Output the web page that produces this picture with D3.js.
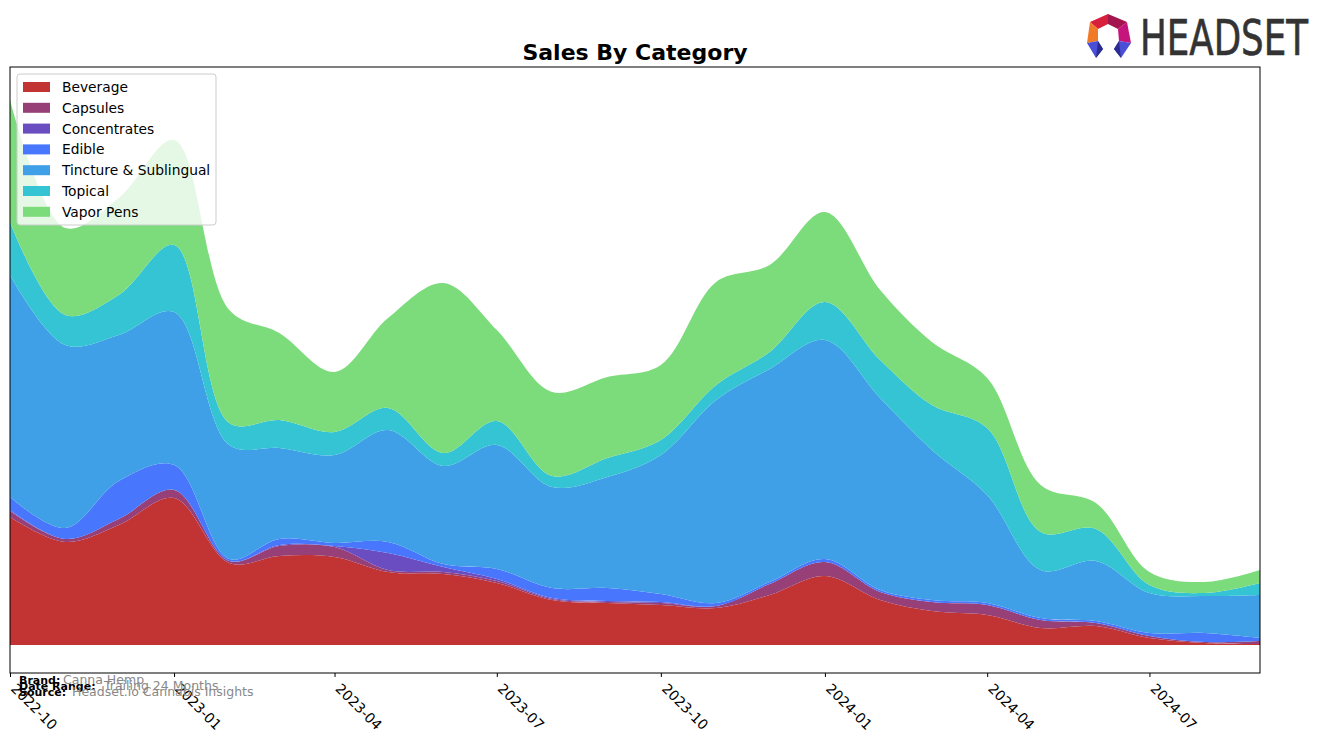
<!DOCTYPE html>
<html>
<head>
<meta charset="utf-8">
<script src="https://cdn.jsdelivr.net/npm/d3@7"></script>
<style>
  body { margin: 0; background: #fff; }
  svg { font-family: "DejaVu Sans", sans-serif; }
</style>
</head>
<body>
<div id="chart-area"></div>
<script>
// months shown on the x axis (monthly data, Oct 2022 - Sep 2024)
const months = ["2022-10","2022-11","2022-12","2023-01","2023-02","2023-03","2023-04","2023-05",
  "2023-06","2023-07","2023-08","2023-09","2023-10","2023-11","2023-12","2024-01","2024-02",
  "2024-03","2024-04","2024-05","2024-06","2024-07","2024-08","2024-09"];
const tickLabels = ["2022-10","2023-01","2023-04","2023-07","2023-10","2024-01","2024-04","2024-07"];

const categories = ["Beverage","Capsules","Concentrates","Edible","Tincture & Sublingual","Topical","Vapor Pens"];
const colors = ["#c23333","#974077","#6a4dc1","#4876fd","#3fa0e8","#34c4d3","#7cdc7c"];

// sales per month (relative units)
const beverage     = [128,103,120,147,82,89,88,73,71,62,45,42,40,37,50,69,45,34,30,17,19,7,2,1];
const capsules     = [6,3,6,8,2,10,10,2,2,2,1,1,2,2,11,14,8,9,10,8,3,2,1,3];
const concentrates = [1,0,0,0,0,1,1,17,5,2,1,1,1,0,0,0,0,0,0,0,0,0,0,0];
const edible       = [13,11,38,25,2,6,3,11,3,10,10,13,8,3,2,3,2,2,2,2,2,3,9,3];
const tincture     = [222,183,146,153,114,91,88,112,98,124,101,111,139,203,213,219,192,150,108,48,60,40,37,43];
const topical      = [53,30,40,67,22,28,23,22,13,24,11,19,15,15,17,38,38,45,67,38,32,8,3,12];
const vaporPens    = [122,87,97,105,113,87,60,90,170,91,84,81,75,103,87,90,70,63,50,47,26,13,11,13];

const series = [beverage, capsules, concentrates, edible, tincture, topical, vaporPens];

// layout
const W = 1324, H = 743;
const plot = { left: 10, right: 1260, top: 67, bottom: 673 };

const svg = d3.select("#chart-area")
  .append("svg")
    .attr("width", W)
    .attr("height", H);

const parse = d3.timeParse("%Y-%m");

// table for the stack
const table = months.map(function(m, i) {
  const row = { date: parse(m) };
  categories.forEach(function(c, k) { row[c] = series[k][i]; });
  return row;
});

const x = d3.scaleTime()
  .domain([parse(months[0]), parse(months[months.length - 1])])
  .range([plot.left, plot.right]);

const y = d3.scaleLinear()
  .domain([-28, 578])
  .range([plot.bottom, plot.top]);

const stacked = d3.stack().keys(categories)(table);

const area = d3.area()
  .curve(d3.curveCatmullRom.alpha(0.5))
  .x(function(d) { return x(d.data.date); })
  .y0(function(d) { return y(d[0]); })
  .y1(function(d) { return y(d[1]); });

svg.append("defs").append("clipPath").attr("id", "clip")
  .append("rect")
    .attr("x", plot.left).attr("y", plot.top)
    .attr("width", plot.right - plot.left)
    .attr("height", plot.bottom - plot.top);

svg.append("g")
  .attr("clip-path", "url(#clip)")
  .selectAll("path")
  .data(stacked)
  .enter().append("path")
    .attr("fill", function(d, i) { return colors[i]; })
    .attr("d", area);

// frame
svg.append("rect")
  .attr("x", plot.left).attr("y", plot.top)
  .attr("width", plot.right - plot.left)
  .attr("height", plot.bottom - plot.top)
  .attr("fill", "none")
  .attr("stroke", "#000")
  .attr("stroke-width", 1);

// x axis
const xAxis = svg.append("g")
  .attr("transform", "translate(0," + plot.bottom + ")")
  .call(d3.axisBottom(x)
    .tickValues(tickLabels.map(parse))
    .tickSize(4)
    .tickFormat(d3.timeFormat("%Y-%m")));
xAxis.select(".domain").remove();
xAxis.selectAll("line").attr("stroke", "#000");
xAxis.selectAll("text")
  .attr("font-size", "14px")
  .attr("font-family", "DejaVu Sans, sans-serif")
  .attr("fill", "#000")
  .attr("text-anchor", "start")
  .attr("x", 0)
  .attr("y", 0)
  .attr("dy", "0.35em")
  .attr("transform", "translate(3,13) rotate(45)");

// title
svg.append("text")
  .attr("x", 635)
  .attr("y", 60)
  .attr("text-anchor", "middle")
  .attr("font-size", "22px")
  .attr("font-weight", "bold")
  .text("Sales By Category");

// legend
const legend = svg.append("g").attr("transform", "translate(17,74)");
legend.append("rect")
  .attr("width", 199).attr("height", 151)
  .attr("rx", 3)
  .attr("fill", "#fff").attr("fill-opacity", 0.8)
  .attr("stroke", "#ccc");
categories.forEach(function(c, i) {
  const row = legend.append("g")
    .attr("transform", "translate(0," + (13 + i * 20.8) + ")");
  row.append("rect")
    .attr("x", 6).attr("y", -5)
    .attr("width", 27).attr("height", 10)
    .attr("fill", colors[i]);
  row.append("text")
    .attr("x", 45).attr("y", 5)
    .attr("font-size", "13.8px")
    .text(c);
});

// footer notes
const notes = [
  { label: "Brand:", value: "Canna Hemp", y: 684, vx: 63 },
  { label: "Date Range:", value: "Trailing 24 Months", y: 690, vx: 104 },
  { label: "Source:", value: "Headset.io Cannabis Insights", y: 696, vx: 72 }
];
notes.forEach(function(n) {
  svg.append("text")
    .attr("x", 19).attr("y", n.y)
    .attr("font-size", "11px").attr("font-weight", "bold")
    .text(n.label);
  svg.append("text")
    .attr("x", n.vx).attr("y", n.y)
    .attr("font-size", "12.5px").attr("fill", "#888")
    .text(n.value);
});

// headset logo
const logo = svg.append("g");
const facets = [
  { c: "#d81f3c", p: [[1090,22],[1108,14],[1108,24],[1098,29]] },
  { c: "#a3154c", p: [[1108,14],[1127,22],[1118,29],[1108,24]] },
  { c: "#f07a28", p: [[1090,22],[1098,29],[1098,41],[1087,43]] },
  { c: "#c5147c", p: [[1127,22],[1131,43],[1119,41],[1118,29]] },
  { c: "#4b4fd6", p: [[1087,43],[1098,41],[1103,49],[1096,58]] },
  { c: "#2b2c8f", p: [[1096,58],[1103,49],[1098,41]] },
  { c: "#4b4fd6", p: [[1131,43],[1119,41],[1114,49],[1121,58]] },
  { c: "#2b2c8f", p: [[1121,58],[1114,49],[1119,41]] }
];
facets.forEach(function(f) {
  logo.append("polygon")
    .attr("points", f.p.map(function(q) { return q.join(","); }).join(" "))
    .attr("fill", f.c);
});
logo.append("text")
  .attr("x", 1140).attr("y", 55)
  .attr("font-family", "Liberation Sans Narrow, DejaVu Sans Condensed, sans-serif")
  .attr("font-size", "50px")
  .attr("fill", "#333")
  .attr("stroke", "#333")
  .attr("stroke-width", 0.6)
  .attr("textLength", 168)
  .attr("lengthAdjust", "spacingAndGlyphs")
  .text("HEADSET");
</script>
</body>
</html>
